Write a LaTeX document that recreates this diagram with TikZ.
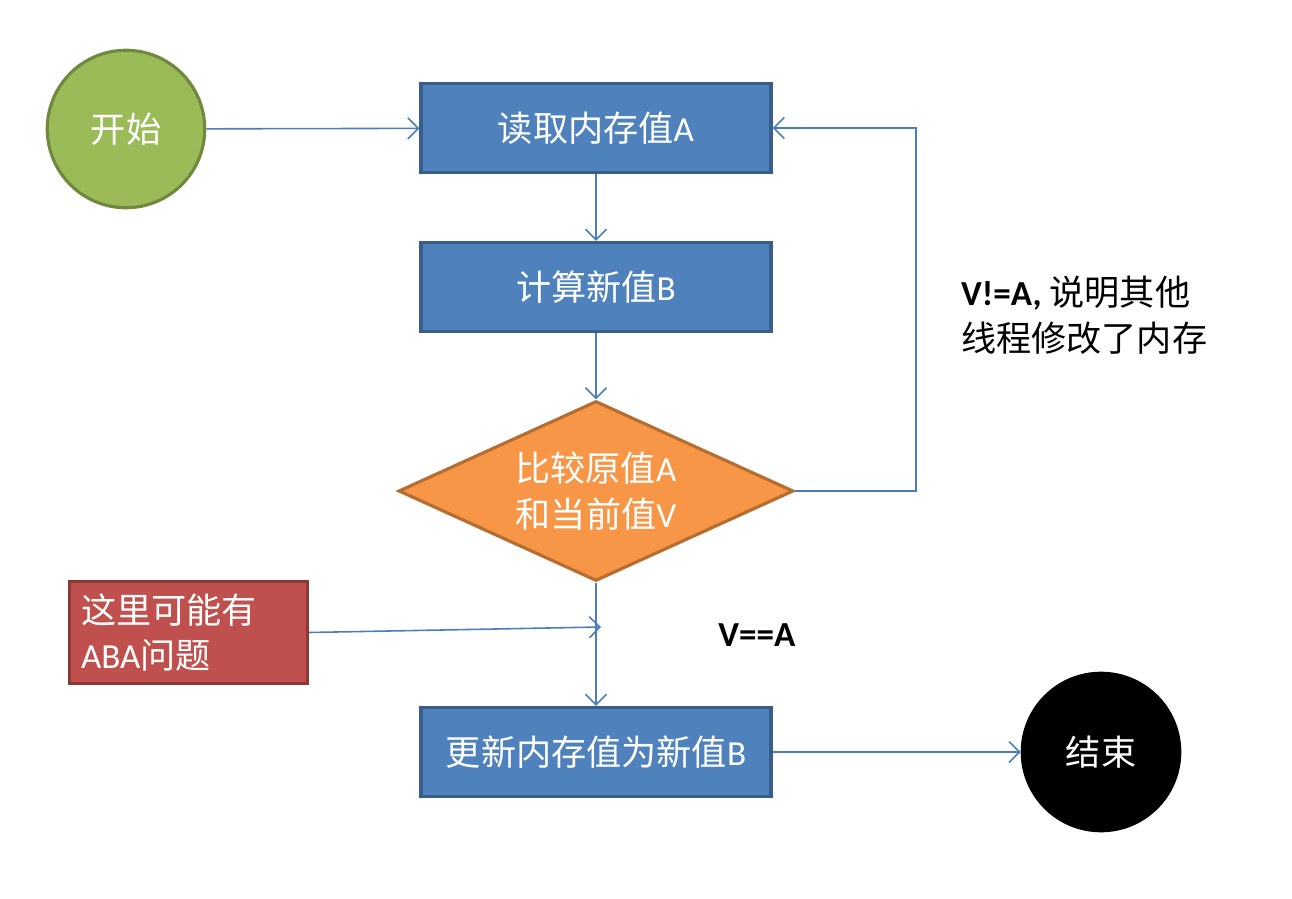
\documentclass[tikz,border=0pt]{standalone}
\usepackage{fontspec}
\setmainfont{Carlito}
\newfontfamily\cjk{Noto Sans CJK SC}
\usetikzlibrary{shapes,arrows.meta,positioning,calc}
\definecolor{stepblue}{HTML}{4F81BD}
\definecolor{stepblueline}{HTML}{385D8A}
\definecolor{startgreen}{HTML}{9BBB59}
\definecolor{startgreenline}{HTML}{71893F}
\definecolor{cmporange}{HTML}{F79646}
\definecolor{cmporangeline}{HTML}{B66D31}
\definecolor{notered}{HTML}{C0504D}
\definecolor{noteredline}{HTML}{8C3836}
\definecolor{flowline}{HTML}{4A7EBB}

\begin{document}
\begin{tikzpicture}[x=0.02cm,y=-0.02cm,
    txt/.style={font=\fontsize{20}{26}\selectfont},
    stepbox/.style={txt, rectangle, draw=stepblueline, fill=stepblue, text=white,
        line width=1.8pt, minimum width=7cm, minimum height=1.78cm},
    ends/.style={txt, circle, line width=1.8pt, minimum size=3.15cm},
    flow/.style={draw=flowline, line width=0.9pt, -{Straight Barb[length=6pt,width=12pt]}}]
    \useasboundingbox (0,0) rectangle (1292,899);

    \node[ends, draw=startgreenline, fill=startgreen, text=white] (start) at (126,129) {\cjk 开始};
    \node[stepbox] (read) at (596,128) {{\cjk 读取内存值}A};
    \node[stepbox] (calc) at (596,287) {{\cjk 计算新值}B};
    \node[txt, diamond, shape aspect=2.18, draw=cmporangeline, fill=cmporange, text=white, line width=1.8pt,
        minimum width=7.9cm, minimum height=3.6cm, align=center, inner sep=0pt] (cmp) at (596,491)
        {{\cjk 比较原值}A\\{\cjk 和当前值}V};
    \node[stepbox] (write) at (596,752) {{\cjk 更新内存值为新值}B};
    \node[ends, draw=black, fill=black, text=white] (finish) at (1101,752) {\cjk 结束};
    \node[txt, rectangle, draw=noteredline, fill=notered, text=white, line width=1.8pt,
        minimum width=4.75cm, minimum height=2.05cm, align=left, text width=4.3cm] (aba) at (188.5,632.5)
        {{\cjk 这里可能有}\\ABA{\cjk 问题}};

    % labels
    \node[txt, align=left, anchor=west] (neq) at (955,315) {\textbf{V!=A,} {\cjk 说明其他}\\{\cjk 线程修改了内存}};
    \node[txt, font=\fontsize{20}{26}\selectfont\bfseries] (eq) at (757,635) {V==A};

    \coordinate (loop) at (916,128);
    \coordinate (hit) at (601,627);

    \draw[flow] (start) -- (read);
    \draw[flow] (read) -- (calc);
    \draw[flow] (calc) -- (cmp);
    \draw[flow] (cmp) -- (write);
    \draw[flow] (write) -- (finish);
    \draw[flow] (cmp.east) -| (loop) -- (read.east);
    \draw[flow] (aba.east) -- (hit);
\end{tikzpicture}
\end{document}
